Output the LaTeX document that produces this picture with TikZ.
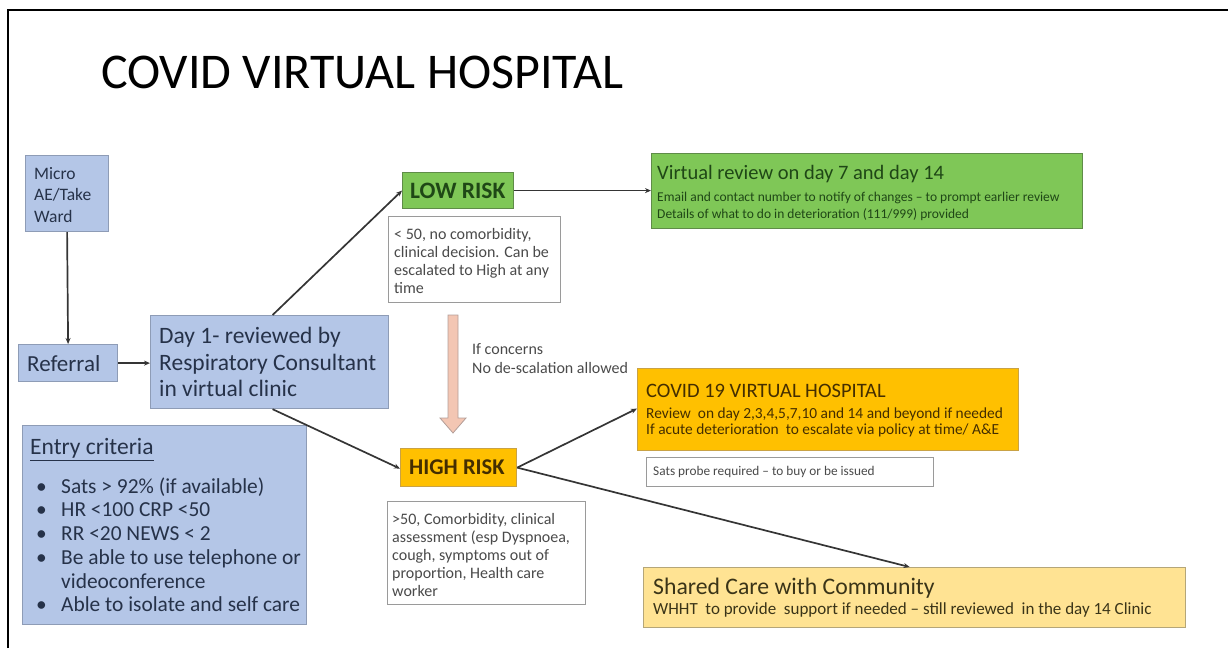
\documentclass[tikz,border=0pt]{standalone}
\usepackage{fontspec}
\setmainfont{Carlito}
\usetikzlibrary{arrows.meta}
\definecolor{bluefill}{HTML}{B4C6E7}
\definecolor{blueline}{HTML}{8E9CB6}
\definecolor{bluetext}{HTML}{263249}
\definecolor{greenfill}{HTML}{7FC757}
\definecolor{greenline}{HTML}{5F8C48}
\definecolor{greentext}{HTML}{1F4716}
\definecolor{orangefill}{HTML}{FFC000}
\definecolor{orangeline}{HTML}{C9A245}
\definecolor{orangetext}{HTML}{442E00}
\definecolor{yellowfill}{HTML}{FFE393}
\definecolor{yellowline}{HTML}{B5A678}
\definecolor{yellowtext}{HTML}{3A3418}
\definecolor{noteline}{HTML}{9A9A9A}
\definecolor{notetext}{HTML}{4A4A4A}
\definecolor{arrowfill}{HTML}{F3C6B3}
\definecolor{arrowline}{HTML}{B39E98}
\definecolor{conn}{HTML}{353535}
\newcommand{\fs}[2]{\fontsize{#1}{#2}\selectfont}
\newcommand{\bul}{\hspace*{6pt}\makebox[25pt][l]{\textbullet}}
\tikzset{
  boxbase/.style={rectangle, anchor=north west, inner sep=0pt, line width=1.2pt},
  bluebox/.style={boxbase, fill=bluefill, draw=blueline},
  greenbox/.style={boxbase, fill=greenfill, draw=greenline},
  orangebox/.style={boxbase, fill=orangefill, draw=orangeline},
  yellowbox/.style={boxbase, fill=yellowfill, draw=yellowline},
  notebox/.style={boxbase, fill=white, draw=noteline, line width=1pt},
  txt/.style={anchor=west, align=left, inner sep=0pt},
  conn/.style={draw=conn, line width=1.7pt, -{Stealth[length=6pt,width=5pt]}},
}
\begin{document}
\begin{tikzpicture}[x=1pt,y=-1pt]
\useasboundingbox (0,0) rectangle (1228,648);
% frame
\draw[line width=2pt, black] (8,648) -- (8,10) -- (1228,10);
% title
\node[anchor=base west, inner sep=0pt, text=black, font=\fs{50}{56}] (title) at (101,88) {COVID VIRTUAL HOSPITAL};
% ---- boxes
\node[bluebox, minimum width=83pt, minimum height=76pt] (micro) at (25,155) {};
\node[bluebox, minimum width=99pt, minimum height=37pt] (referral) at (18,344) {};
\node[bluebox, minimum width=238pt, minimum height=93pt] (day1) at (150,315) {};
\node[bluebox, minimum width=284pt, minimum height=199pt] (entry) at (22,425) {};
\node[greenbox, minimum width=111pt, minimum height=36pt] (low) at (402,172) {};
\node[notebox, minimum width=172pt, minimum height=86pt] (lownote) at (388,216) {};
\node[orangebox, minimum width=116pt, minimum height=38pt] (high) at (400,448) {};
\node[notebox, minimum width=198pt, minimum height=103pt] (highnote) at (387,501) {};
\node[greenbox, minimum width=431pt, minimum height=75pt] (virtual) at (651,153) {};
\node[orangebox, minimum width=381pt, minimum height=82pt] (covid) at (637,368) {};
\node[notebox, minimum width=287pt, minimum height=29pt] (sats) at (646,457) {};
\node[yellowbox, minimum width=542pt, minimum height=60pt] (shared) at (643,567) {};
% ---- texts
\node[txt, text=bluetext, font=\fs{17.5}{21.5}] (microT) at ([xshift=9pt,yshift=-1pt]micro.west)
  {Micro\\AE/Take\\Ward};
\node[txt, text=bluetext, font=\fs{23}{26}] (referralT) at ([xshift=9pt]referral.west) {Referral};
\node[txt, text=bluetext, font=\fs{23.5}{26.5}] (day1T) at ([xshift=9pt]day1.west)
  {Day 1- reviewed by\\Respiratory Consultant\\in virtual clinic};
\node[txt, text=bluetext, font=\fs{21.4}{23.7}] (entryT) at ([xshift=8pt]entry.west)
  {{\fs{23.5}{26}\underline{Entry criteria}}\\[15pt]
   \bul Sats > 92\% (if available)\\
   \bul HR <100 CRP <50\\
   \bul RR <20 NEWS < 2\\
   \bul Be able to use telephone or\\
   \hspace*{31pt}videoconference\\
   \bul Able to isolate and self care};
\node[txt, text=greentext, font=\fs{23.5}{26}\bfseries] (lowT) at ([xshift=8pt]low.west) {LOW RISK};
\node[txt, text=notetext, font=\fs{16}{18}] (lownoteT) at ([xshift=6pt,yshift=-1pt]lownote.west)
  {< 50, no comorbidity,\\clinical decision. Can be\\escalated to High at any\\time};
\node[txt, text=orangetext, font=\fs{22.5}{26}\bfseries] (highT) at ([xshift=9pt]high.west) {HIGH RISK};
\node[txt, text=notetext, font=\fs{16}{18}] (highnoteT) at ([xshift=5pt,yshift=-2pt]highnote.west)
  {>50, Comorbidity, clinical\\assessment (esp Dyspnoea,\\cough, symptoms out of\\proportion, Health care\\worker};
\node[txt, text=greentext, font=\fs{13.5}{17.5}] (virtualT) at ([xshift=6pt,yshift=-2pt]virtual.west)
  {{\fs{20.5}{22}Virtual review on day 7 and day 14}\\[4pt]
   Email and contact number to notify of changes -- to prompt earlier review\\
   Details of what to do in deterioration (111/999) provided};
\node[txt, text=orangetext, font=\fs{15.4}{16.5}] (covidT) at ([xshift=9pt,yshift=-1pt]covid.west)
  {{\fs{20.5}{24}COVID 19 VIRTUAL HOSPITAL}\\[4.5pt]
   Review\ \ on day 2,3,4,5,7,10 and 14 and beyond if needed\\
   If acute deterioration\ \ to escalate via policy at time/ A\&E};
\node[txt, text=notetext, font=\fs{13.3}{16}] (satsT) at ([xshift=7pt]sats.west)
  {Sats probe required -- to buy or be issued};
\node[txt, text=yellowtext, font=\fs{17}{20}] (sharedT) at ([xshift=10pt,yshift=0pt]shared.west)
  {{\fs{23.7}{26}Shared Care with Community}\\
   WHHT\ \ to provide\ \ support if needed -- still reviewed\ \ in the day 14 Clinic};
% escalation arrow
\filldraw[fill=arrowfill, draw=arrowline, line width=0.8pt]
  (448,315) -- (458,315) -- (458,418) -- (466,418) -- (453,433) -- (440,418) -- (448,418) -- cycle;
\node[anchor=north west, align=left, inner sep=0pt, text=notetext, font=\fs{16}{19}] (concern) at (472,343)
  {If concerns\\No de-scalation allowed};
% connectors
\draw[conn] (micro.south) -- (referral.north);
\draw[conn] (referral.east) -- (day1.west |- referral.east);
\draw[conn] ([xshift=3pt]day1.north) -- (low.west);
\draw[conn] ([xshift=3pt]day1.south) -- ([yshift=-1pt]high.west);
\draw[conn] (low.east) -- (virtual.west |- low.east);
\draw[conn] (high.east) -- ([yshift=1pt]covid.west);
\draw[conn] (high.east) -- ([xshift=-5pt]shared.north);
\end{tikzpicture}
\end{document}
